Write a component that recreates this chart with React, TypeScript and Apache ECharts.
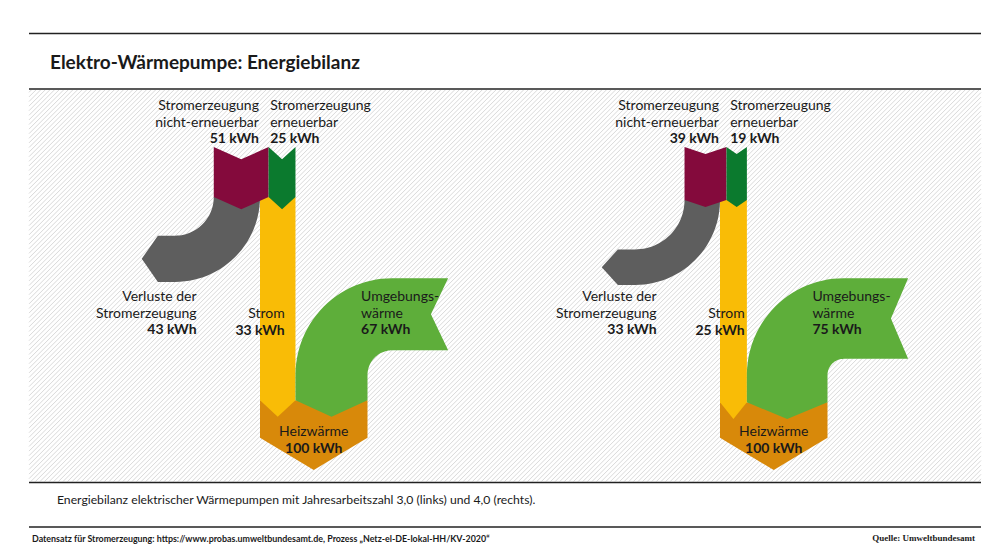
import React, { useEffect, useRef } from "react";
import * as echarts from "echarts";

// ---------------- data (kWh) ----------------
const diagrams = ["Jahresarbeitszahl 3,0", "Jahresarbeitszahl 4,0"];
const nonRenewable = [51, 39];
const renewable = [25, 19];
const losses = [43, 33];
const electricity = [33, 25];
const ambientHeat = [67, 75];
const heatOutput = [100, 100];

// ---------------- texts ----------------
const title = "Elektro-Wärmepumpe: Energiebilanz";
const caption =
  "Energiebilanz elektrischer Wärmepumpen mit Jahresarbeitszahl 3,0 (links) und 4,0 (rechts).";
const footnote =
  "Datensatz für Stromerzeugung: https://www.probas.umweltbundesamt.de, Prozess „Netz-el-DE-lokal-HH/KV-2020“";
const sourceText = "Quelle: Umweltbundesamt";
const nonRenewableLabel = ["Stromerzeugung", "nicht-erneuerbar"];
const renewableLabel = ["Stromerzeugung", "erneuerbar"];
const lossesLabel = ["Verluste der", "Stromerzeugung"];
const electricityLabel = ["Strom"];
const ambientLabel = ["Umgebungs-", "wärme"];
const heatLabel = ["Heizwärme"];
const unit = "kWh";

// ---------------- styling / layout ----------------
const FONT = "Lato, 'Noto Sans', sans-serif";
const TEXT = "#1a1a1a";
const COLORS: Record<string, string> = {
  nonRenewable: "#840a3c",
  renewable: "#0b7a2e",
  losses: "#5e5e5e",
  electricity: "#f9bc06",
  ambient: "#5eae3a",
  heat: "#d8890a",
};
const S = 1.075; // px per kWh (same in x and y)
const ORIGIN_X = [260, 720];
const ORIGIN_Y = 140;
const X_MIN = -130;
const X_MAX = 200;
const Y_MAX = 340;
// layout constants in kWh-units
const SRC_TOP = 6.5;
const SRC_NOTCH = [11.5, 6.5];
const JUNC = [53, 55.8];
const HEAT_TOP = [242, 244];
const CHEVRON = 15.5;
const HEAT_SIDE = 277;
const HEAT_TIP = 307;
const LOSS_R = 79;
const LOSS_EXT = 16;
const LOSS_TIP = 15;
const AMB_CY = 218.6;
const AMB_R = 90;
const AMB_END = 175;
const AMB_NOTCH = 16;
const LINE_H = 16.5;

type Pt = [number, number];
const STEPS = 28;

function buildFlows(d: number) {
  const E = electricity[d];
  const R = renewable[d];
  const N = nonRenewable[d];
  const L = losses[d];
  const A = ambientHeat[d];
  const H = heatOutput[d];
  const J = JUNC[d];
  const HT = HEAT_TOP[d];
  const n = SRC_NOTCH[d];
  const flows: { name: string; value: number; color: string; pts: Pt[] }[] = [];

  flows.push({
    name: "Heizwärme",
    value: H,
    color: COLORS.heat,
    pts: [
      [0, HT],
      [H, HT],
      [H, HEAT_SIDE],
      [H / 2, HEAT_TIP],
      [0, HEAT_SIDE],
    ],
  });

  flows.push({
    name: "Strom",
    value: E,
    color: COLORS.electricity,
    pts: [
      [0, J],
      [E, J],
      [E, HT],
      [E / 2, HT + CHEVRON],
      [0, HT],
    ],
  });

  {
    const x0 = E;
    const x1 = E + A;
    const cx = E + AMB_R;
    const cy = AMB_CY;
    const rIn = AMB_R - A;
    const pts: Pt[] = [
      [x0, HT],
      [(x0 + x1) / 2, HT + CHEVRON],
      [x1, HT],
    ];
    for (let i = 0; i <= STEPS; i++) {
      const t = (i / STEPS) * (Math.PI / 2);
      pts.push([cx - rIn * Math.cos(t), cy - rIn * Math.sin(t)]);
    }
    pts.push([AMB_END, cy - rIn]);
    pts.push([AMB_END - AMB_NOTCH, cy - (rIn + AMB_R) / 2]);
    pts.push([AMB_END, cy - AMB_R]);
    for (let i = STEPS; i >= 0; i--) {
      const t = (i / STEPS) * (Math.PI / 2);
      pts.push([cx - AMB_R * Math.cos(t), cy - AMB_R * Math.sin(t)]);
    }
    flows.push({ name: "Umgebungswärme", value: A, color: COLORS.ambient, pts });
  }

  {
    const cx = -LOSS_R;
    const cy = J;
    const rIn = LOSS_R - L;
    const pts: Pt[] = [];
    for (let i = 0; i <= STEPS; i++) {
      const t = (i / STEPS) * (Math.PI / 2);
      pts.push([cx + rIn * Math.cos(t), cy + rIn * Math.sin(t)]);
    }
    pts.push([cx - LOSS_EXT, cy + rIn]);
    pts.push([cx - LOSS_EXT - LOSS_TIP, cy + (rIn + LOSS_R) / 2]);
    pts.push([cx - LOSS_EXT, cy + LOSS_R]);
    for (let i = STEPS; i >= 0; i--) {
      const t = (i / STEPS) * (Math.PI / 2);
      pts.push([cx + LOSS_R * Math.cos(t), cy + LOSS_R * Math.sin(t)]);
    }
    flows.push({ name: "Verluste der Stromerzeugung", value: L, color: COLORS.losses, pts });
  }

  const src = (name: string, value: number, x0: number, x1: number, color: string) => {
    const m = (x0 + x1) / 2;
    flows.push({
      name,
      value,
      color,
      pts: [
        [x0, SRC_TOP],
        [m, SRC_TOP + n],
        [x1, SRC_TOP],
        [x1, J],
        [m, J + n],
        [x0, J],
      ],
    });
  };
  src("Stromerzeugung nicht-erneuerbar", N, E - R - N, E - R, COLORS.nonRenewable);
  src("Stromerzeugung erneuerbar", R, E - R, E, COLORS.renewable);
  return flows;
}

function buildLabels(d: number) {
  const E = electricity[d];
  const H = heatOutput[d];
  return [
    { lines: nonRenewableLabel, value: nonRenewable[d], x: -1, y: -33, align: "right" },
    { lines: renewableLabel, value: renewable[d], x: 9.5, y: -33, align: "left" },
    { lines: lossesLabel, value: losses[d], x: -59, y: 145, align: "right" },
    { lines: electricityLabel, value: electricity[d], x: 23, y: 160.5, align: "right" },
    { lines: ambientLabel, value: ambientHeat[d], x: E + 61, y: 145, align: "left" },
    { lines: heatLabel, value: heatOutput[d], x: H / 2, y: 270.5, align: "center" },
  ];
}

function hatchPath(x0: number, y0: number, x1: number, y1: number, step: number) {
  let d = "";
  for (let c = x0 + y0 + step / 2; c < x1 + y1; c += step) {
    const ya = Math.min(y1, c - x0);
    const xa = c - ya;
    const yb = Math.max(y0, c - x1);
    const xb = c - yb;
    if (xa >= x1 || ya <= y0) continue;
    d += `M${xa.toFixed(2)} ${ya.toFixed(2)}L${xb.toFixed(2)} ${yb.toFixed(2)}`;
  }
  return d;
}

const txt = (
  text: string,
  x: number,
  y: number,
  size: number,
  weight: string | number,
  align = "left",
  family = FONT
) => ({
  type: "text",
  x,
  y,
  silent: true,
  z: 10,
  style: {
    text,
    fill: TEXT,
    fontSize: size,
    fontWeight: weight,
    fontFamily: family,
    align,
    textAlign: align,
    verticalAlign: "middle",
    textVerticalAlign: "middle",
  },
});

const hline = (y: number, x1 = 29, x2 = 981) => ({
  type: "line",
  silent: true,
  z: 10,
  shape: { x1, y1: y, x2, y2: y },
  style: { stroke: "#222", lineWidth: 1.5 },
});

export default function App() {
  const ref = useRef<HTMLDivElement>(null);
  useEffect(() => {
    echarts.graphic.registerShape(
      "hatch",
      echarts.graphic.extendPath(hatchPath(29, 90, 981, 481.5, 4.6), {})
    );
    const chart = echarts.init(ref.current!, null, { renderer: "svg" });

    const grids = diagrams.map((_, i) => ({
      left: ORIGIN_X[i] + X_MIN * S,
      top: ORIGIN_Y,
      width: (X_MAX - X_MIN) * S,
      height: Y_MAX * S,
      containLabel: false,
    }));
    const xAxes = diagrams.map((_, i) => ({
      gridIndex: i,
      type: "value",
      min: X_MIN,
      max: X_MAX,
      show: false,
    }));
    const yAxes = diagrams.map((_, i) => ({
      gridIndex: i,
      type: "value",
      min: 0,
      max: Y_MAX,
      inverse: true,
      show: false,
    }));

    const series: any[] = [];
    diagrams.forEach((name, d) => {
      const flows = buildFlows(d);
      series.push({
        type: "custom",
        name,
        xAxisIndex: d,
        yAxisIndex: d,
        z: 5,
        silent: true,
        data: flows.map((f, i) => ({ name: f.name, value: [i, f.value] })),
        renderItem: (params: any, api: any) => {
          const f = flows[params.dataIndex];
          return {
            type: "polygon",
            shape: { points: f.pts.map((p) => api.coord(p)) },
            style: { fill: f.color },
          };
        },
      });
      const labels = buildLabels(d);
      series.push({
        type: "custom",
        name: name + " labels",
        xAxisIndex: d,
        yAxisIndex: d,
        z: 8,
        silent: true,
        data: labels.map((l) => ({ value: [l.x, l.y, l.value] })),
        renderItem: (params: any, api: any) => {
          const l = labels[params.dataIndex];
          const [px, py] = api.coord([api.value(0), api.value(1)]);
          const lines = [...l.lines, `${api.value(2)} ${unit}`];
          return {
            type: "group",
            children: lines.map((t, k) => ({
              type: "text",
              x: px,
              y: py + k * LINE_H,
              style: {
                text: t,
                fill: TEXT,
                fontSize: 14,
                fontFamily: FONT,
                fontWeight: k === lines.length - 1 ? "bold" : "normal",
                align: l.align,
                verticalAlign: "middle",
              },
            })),
          };
        },
      });
    });

    chart.setOption({
      animation: false,
      backgroundColor: "#ffffff",
      grid: grids,
      xAxis: xAxes,
      yAxis: yAxes,
      series,
      graphic: {
        elements: [
          {
            type: "hatch",
            x: 0,
            y: 0,
            silent: true,
            z: 0,
            style: { fill: null, stroke: "#d9d9d9", lineWidth: 1 },
          },
          hline(33.5),
          hline(89),
          hline(482.5),
          hline(527),
          txt(title, 50, 61.5, 19, "bold"),
          txt(caption, 57, 499, 12.2, "normal"),
          txt(footnote, 32, 538, 8.9, "bold"),
          txt(sourceText, 975, 537.5, 9, "bold", "right", "'Liberation Serif', serif"),
        ],
      },
    });
    return () => chart.dispose();
  }, []);
  return (
    <div
      ref={ref}
      style={{ position: "fixed", left: 0, top: 0, width: 1000, height: 556, background: "#fff" }}
    />
  );
}
